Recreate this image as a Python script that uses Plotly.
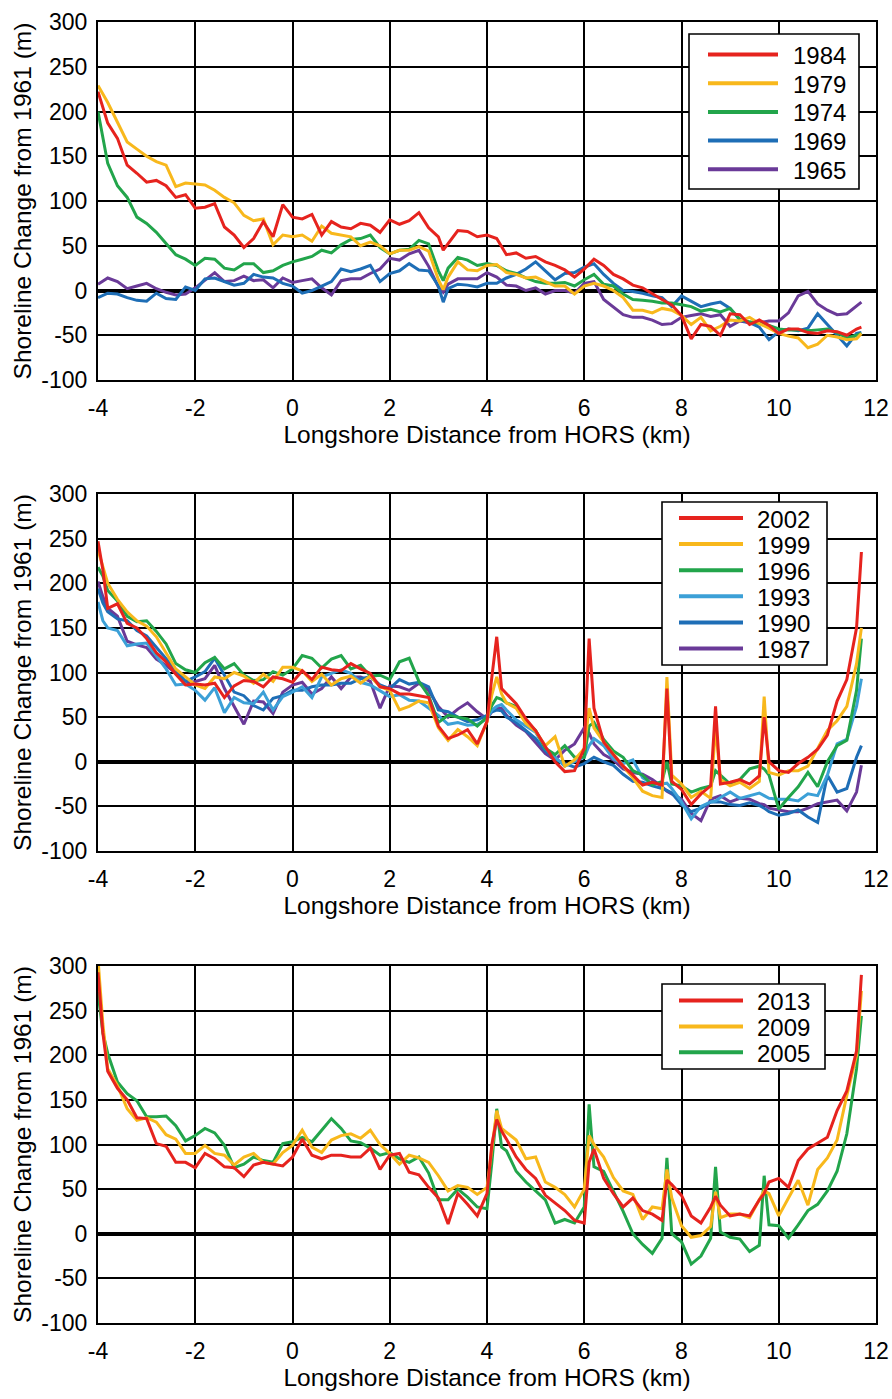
import plotly.graph_objects as go

# ---------------- data ----------------
# Panel 1 : 1965 - 1984
X1 = [-4.0, -3.8, -3.6, -3.4, -3.2, -3.0, -2.8, -2.6, -2.4, -2.2,
      -2.0, -1.8, -1.6, -1.4, -1.2, -1.0, -0.8, -0.6, -0.4, -0.2,
      0.0, 0.2, 0.4, 0.6, 0.8, 1.0, 1.2, 1.4, 1.6, 1.8,
      2.0, 2.2, 2.4, 2.6, 2.8, 3.0, 3.1, 3.2, 3.4, 3.6,
      3.8, 4.0, 4.2, 4.4, 4.6, 4.8, 5.0, 5.2, 5.4, 5.6,
      5.8, 6.0, 6.2, 6.4, 6.6, 6.8, 7.0, 7.2, 7.4, 7.6,
      7.8, 8.0, 8.2, 8.4, 8.6, 8.8, 9.0, 9.2, 9.4, 9.6,
      9.8, 10.0, 10.2, 10.4, 10.6, 10.8, 11.0, 11.2, 11.4, 11.6,
      11.7]

Y1984 = [222, 187, 170, 140, 131, 121, 123, 117, 104, 107,
         92, 93, 97, 71, 62, 48, 58, 77, 60, 96,
         82, 80, 85, 62, 77, 71, 69, 75, 73, 65,
         79, 74, 78, 87, 70, 60, 45, 52, 67, 66,
         60, 62, 58, 40, 42, 36, 38, 32, 28, 23,
         15, 24, 35, 28, 18, 13, 6, 3, -4, -10,
         -16, -28, -54, -38, -40, -50, -26, -27, -38, -33,
         -39, -48, -43, -43, -47, -48, -45, -46, -50, -43,
         -41]
Y1979 = [229, 210, 188, 166, 158, 150, 144, 140, 116, 120,
         119, 118, 112, 104, 98, 84, 78, 80, 51, 62,
         60, 62, 55, 72, 64, 62, 60, 50, 54, 50,
         41, 45, 45, 49, 44, 12, 1, 15, 32, 23,
         22, 28, 29, 20, 18, 14, 15, 10, 5, 5,
         -4, 5, 8, 5, 0, -8, -22, -22, -25, -20,
         -22, -28, -38, -30, -45, -40, -33, -34, -30, -37,
         -42, -48, -51, -53, -64, -60, -50, -52, -55, -54,
         -48]
Y1974 = [200, 142, 117, 104, 82, 75, 65, 53, 40, 35,
         28, 36, 35, 25, 23, 30, 30, 20, 22, 28,
         32, 35, 38, 45, 42, 51, 57, 58, 62, 48,
         41, 45, 46, 56, 52, 22, 11, 25, 37, 34,
         28, 30, 28, 22, 19, 14, 10, 8, 8, 9,
         5, 12, 18, 7, 5, -4, -10, -11, -12, -14,
         -14, -16, -18, -23, -21, -24, -20, -32, -35, -37,
         -39, -43, -44, -44, -45, -44, -43, -47, -53, -50,
         -48]
Y1969 = [-8, -3, -4, -8, -11, -12, -3, -9, -10, 4,
         0, 13, 14, 10, 6, 8, 18, 15, 14, 8,
         5, -3, 0, 5, 10, 24, 21, 24, 28, 10,
         19, 22, 30, 23, 22, 5, -13, 2, 7, 6,
         4, 8, 8, 14, 18, 24, 32, 22, 12, 19,
         20, 26, 30, 18, 8, 0, -1, -3, -6, -8,
         -18, -6, -12, -18, -15, -13, -20, -33, -36, -41,
         -55, -46, -43, -45, -42, -26, -38, -50, -62, -48,
         -47]
Y1965 = [7, 14, 10, 2, 5, 8, 2, -2, -5, -4,
         3, 12, 20, 10, 11, 16, 11, 12, 3, 14,
         9, 11, 13, 3, -5, 11, 13, 13, 19, 24,
         36, 34, 41, 45, 27, 4, -2, 7, 13, 13,
         13, 20, 15, 6, 5, 0, 3, -4, 0, 0,
         -3, 8, 10, -10, -18, -27, -30, -30, -33, -38,
         -37, -30, -28, -26, -29, -27, -40, -34, -36, -36,
         -34, -34, -25, -6, -1, -15, -22, -27, -26, -17,
         -13]

# Panels 2 and 3 share one sampling of the longshore distance
X2 = [-4.0, -3.9, -3.8, -3.6, -3.4, -3.2, -3.0, -2.8, -2.6, -2.4,
      -2.2, -2.0, -1.8, -1.6, -1.4, -1.2, -1.0, -0.8, -0.6, -0.4,
      -0.2, 0.0, 0.2, 0.4, 0.6, 0.8, 1.0, 1.2, 1.4, 1.6,
      1.8, 2.0, 2.2, 2.4, 2.6, 2.8, 3.0, 3.2, 3.4, 3.6,
      3.8, 4.0, 4.1, 4.2, 4.3, 4.4, 4.6, 4.8, 5.0, 5.2,
      5.4, 5.6, 5.8, 6.0, 6.1, 6.2, 6.4, 6.6, 6.8, 7.0,
      7.2, 7.4, 7.6, 7.7, 7.8, 8.0, 8.2, 8.4, 8.6, 8.7,
      8.8, 9.0, 9.2, 9.4, 9.6, 9.7, 9.8, 10.0, 10.2, 10.4,
      10.6, 10.8, 11.0, 11.2, 11.4, 11.6, 11.7]

# Panel 2 : 1987 - 2002
Y2002 = [247, 215, 172, 177, 155, 150, 138, 122, 112, 98,
         86, 87, 86, 88, 72, 85, 91, 90, 84, 95,
         93, 89, 102, 92, 106, 103, 102, 110, 104, 99,
         84, 82, 76, 76, 74, 72, 40, 26, 30, 36,
         20, 45, 95, 140, 82, 76, 65, 48, 35, 17,
         0, -11, -10, 15, 138, 60, 22, 8, -5, -15,
         -26, -23, -26, 82, -22, -31, -48, -36, -27, 62,
         -25, -23, -20, -25, -16, 50, 0, -10, -12, -2,
         5, 14, 30, 68, 92, 150, 235]
Y1999 = [237, 218, 200, 182, 168, 158, 152, 140, 122, 104,
         95, 86, 82, 95, 93, 100, 96, 88, 98, 90,
         106, 106, 102, 90, 98, 86, 93, 96, 88, 96,
         84, 80, 58, 62, 68, 66, 38, 24, 36, 28,
         18, 45, 75, 95, 76, 66, 60, 43, 34, 18,
         28, -5, 2, 15, 60, 38, 22, 8, -5, -18,
         -33, -38, -40, 95, -15, -25, -40, -33, -41, 40,
         -20, -27, -23, -30, -22, 73, -12, -15, -10, -10,
         -5, 15, 35, 46, 62, 110, 150]
Y1996 = [218, 208, 192, 180, 163, 157, 158, 146, 132, 110,
         103, 100, 111, 117, 104, 110, 97, 91, 92, 101,
         97, 104, 119, 116, 105, 115, 119, 104, 108, 96,
         97, 92, 112, 116, 90, 74, 44, 52, 50, 48,
         40, 50, 63, 72, 70, 66, 62, 45, 35, 15,
         8, 18, 5, 5, 40, 44, 25, 12, 5, -10,
         -15, -26, -22, 0, -25, -27, -34, -30, -27, -10,
         -15, -25, -20, -8, -5, -8, -15, -53, -40, -28,
         -12, -28, 0, 18, 24, 80, 138]
Y1993 = [179, 158, 150, 147, 130, 132, 133, 118, 104, 86,
         87, 80, 69, 83, 55, 72, 66, 65, 78, 58,
         73, 78, 84, 72, 95, 99, 103, 99, 89, 86,
         79, 73, 75, 69, 68, 60, 52, 42, 44, 41,
         42, 48, 58, 62, 64, 58, 47, 40, 33, 15,
         5, -5, 0, 5, 18, 26, 18, 3, -2, 2,
         -18, -25, -25, -24, -30, -45, -64, -50, -45, -44,
         -40, -34, -41, -38, -35, -38, -41, -42, -42, -44,
         -36, -38, -15, 20, 25, 62, 93]
Y1990 = [194, 178, 168, 160, 158, 147, 141, 128, 116, 102,
         90, 95, 101, 116, 97, 78, 74, 63, 58, 71,
         74, 80, 80, 84, 86, 86, 88, 88, 93, 95,
         86, 82, 92, 87, 89, 84, 58, 56, 50, 45,
         47, 52, 56, 58, 57, 50, 44, 35, 26, 12,
         3, -2, -6, -2, 2, 5, 0, -4, -14, -22,
         -23, -27, -30, -32, -35, -48, -56, -52, -45, -45,
         -45, -48, -49, -46, -49, -52, -56, -60, -58, -54,
         -62, -68, -15, -34, -30, 5, 18]
Y1987 = [202, 185, 172, 163, 135, 131, 128, 115, 108, 99,
         88, 90, 93, 108, 82, 62, 42, 68, 67, 54,
         78, 86, 89, 76, 82, 95, 82, 95, 95, 90,
         60, 85, 84, 80, 88, 80, 62, 50, 59, 66,
         56, 48, 56, 60, 60, 52, 41, 34, 22, 9,
         2, 13, 20, 38, 32, 20, 8, 2, -8, -12,
         -14, -20, -28, -33, -36, -42, -58, -66, -42, -40,
         -38, -45, -41, -42, -47, -48, -52, -54, -56, -56,
         -52, -47, -45, -43, -55, -34, -4]

# Panel 3 : 2005 - 2013
Y2013 = [293, 225, 182, 163, 150, 130, 129, 101, 98, 80,
         80, 74, 90, 84, 75, 74, 64, 77, 80, 78,
         76, 86, 106, 88, 84, 88, 88, 86, 86, 96,
         72, 88, 90, 69, 66, 52, 40, 11, 45, 33,
         20, 45, 100, 128, 115, 106, 86, 72, 62, 43,
         35, 26, 15, 12, 80, 95, 62, 45, 30, 40,
         26, 22, 15, 60, 55, 43, 20, 12, 30, 42,
         32, 20, 22, 20, 38, 45, 58, 62, 52, 82,
         95, 102, 108, 138, 160, 205, 290]
Y2009 = [308, 235, 185, 166, 140, 127, 130, 125, 111, 106,
         90, 90, 99, 90, 88, 77, 86, 90, 80, 78,
         91, 99, 116, 97, 91, 105, 110, 112, 107, 116,
         100, 90, 78, 88, 85, 80, 65, 48, 54, 52,
         44, 52, 95, 138, 118, 114, 105, 84, 86, 58,
         52, 44, 30, 50, 110, 100, 86, 63, 48, 44,
         16, 30, 28, 72, 40, 9, -4, -2, 8, 47,
         18, 22, 22, 18, 38, 48, 45, 20, 40, 60,
         32, 72, 85, 105, 155, 200, 272]
Y2005 = [271, 225, 202, 170, 157, 149, 131, 131, 132, 121,
         104, 110, 118, 113, 99, 74, 78, 86, 82, 80,
         101, 103, 108, 103, 116, 129, 118, 104, 102, 96,
         88, 91, 84, 80, 86, 68, 38, 38, 50, 41,
         30, 28, 80, 140, 97, 93, 70, 58, 48, 38,
         12, 16, 12, 30, 145, 75, 70, 48, 25, 0,
         -12, -22, -5, 85, 0, -9, -34, -25, -5, 75,
         2, -4, -6, -20, -13, 65, 10, 9, -5, 10,
         26, 33, 48, 70, 112, 185, 244]

for _y in (Y1984, Y1979, Y1974, Y1969, Y1965):
    assert len(_y) == len(X1)
for _y in (Y2002, Y1999, Y1996, Y1993, Y1990, Y1987, Y2013, Y2009, Y2005):
    assert len(_y) == len(X2)

X_TICKS = [-4, -2, 0, 2, 4, 6, 8, 10, 12]
Y_TICKS = [-100, -50, 0, 50, 100, 150, 200, 250, 300]

# ---------------- styling ----------------
RED = "#E6231E"
YELLOW = "#F8B81C"
GREEN = "#22A54B"
BLUE = "#1E6EB6"
LBLUE = "#3CA0D7"
PURPLE = "#6A3A98"

FONT = "Liberation Sans, Arial, Helvetica, sans-serif"
W, H = 892, 1399
ML, MR, MT, MB = 98, 16, 22, 76
PW, PH = W - ML - MR, H - MT - MB


def fx(px):
    """window pixel x -> paper fraction"""
    return (px - ML) / PW


def fy(py):
    """window pixel y -> paper fraction"""
    return 1 - (py - MT) / PH


# series listed newest first (legend order); drawn oldest first
panels = [
    dict(top=22, bottom=380,
         series=[("1984", X1, Y1984, RED), ("1979", X1, Y1979, YELLOW),
                 ("1974", X1, Y1974, GREEN), ("1969", X1, Y1969, BLUE),
                 ("1965", X1, Y1965, PURPLE)],
         box=(689, 34, 859, 189), key=(708, 778), ky0=54.5, kdy=28.7, tx=791),
    dict(top=494, bottom=851,
         series=[("2002", X2, Y2002, RED), ("1999", X2, Y1999, YELLOW),
                 ("1996", X2, Y1996, GREEN), ("1993", X2, Y1993, LBLUE),
                 ("1990", X2, Y1990, BLUE), ("1987", X2, Y1987, PURPLE)],
         box=(662, 502, 827, 665), key=(679, 743), ky0=518, kdy=26.1, tx=755),
    dict(top=966, bottom=1323,
         series=[("2013", X2, Y2013, RED), ("2009", X2, Y2009, YELLOW),
                 ("2005", X2, Y2005, GREEN)],
         box=(662, 984, 825, 1069), key=(679, 743), ky0=1000.5, kdy=25.9, tx=755),
]

fig = go.Figure()
shapes, annotations = [], []
layout = dict(
    template="none",
    width=W, height=H, autosize=False,
    margin=dict(l=ML, r=MR, t=MT, b=MB, pad=0),
    paper_bgcolor="white", plot_bgcolor="white",
    showlegend=False,
    font=dict(family=FONT, color="black", size=23),
)

for i, p in enumerate(panels, start=1):
    xa = "x" if i == 1 else f"x{i}"
    ya = "y" if i == 1 else f"y{i}"
    for name, xs, ys, col in reversed(p["series"]):
        fig.add_trace(go.Scatter(x=xs, y=ys, mode="lines", name=name,
                                 line=dict(color=col, width=3),
                                 xaxis=xa, yaxis=ya))
    xkey = "xaxis" if i == 1 else f"xaxis{i}"
    ykey = "yaxis" if i == 1 else f"yaxis{i}"
    layout[xkey] = dict(
        domain=[0, 1], anchor=ya, range=[-4, 12],
        tickmode="array", tickvals=X_TICKS, ticktext=[str(v) for v in X_TICKS],
        showgrid=True, gridcolor="black", gridwidth=1.6,
        zeroline=False, showline=True, linecolor="black", linewidth=2, mirror=True,
        ticks="", ticklabelstandoff=6, automargin=False,
        tickfont=dict(family=FONT, size=23, color="black"),
        title=dict(text="Longshore Distance from HORS (km)",
                   font=dict(family=FONT, size=24.5, color="black"), standoff=5),
    )
    layout[ykey] = dict(
        domain=[fy(p["bottom"]), fy(p["top"])], anchor=xa, range=[-100, 300],
        tickmode="array", tickvals=Y_TICKS, ticktext=[str(v) for v in Y_TICKS],
        showgrid=True, gridcolor="black", gridwidth=1.6,
        zeroline=True, zerolinecolor="black", zerolinewidth=4,
        showline=True, linecolor="black", linewidth=2, mirror=True,
        ticks="", ticklabelstandoff=4, automargin=False,
        tickfont=dict(family=FONT, size=23, color="black"),
        title=dict(text="Shoreline Change from 1961 (m)",
                   font=dict(family=FONT, size=24.5, color="black"), standoff=3),
    )
    # legend box drawn on the paper
    x0, y0, x1, y1 = p["box"]
    shapes.append(dict(type="rect", xref="paper", yref="paper", layer="above",
                       x0=fx(x0), x1=fx(x1), y0=fy(y1), y1=fy(y0),
                       fillcolor="white", line=dict(color="black", width=1.6)))
    for k, (name, xs, ys, col) in enumerate(p["series"]):
        yk = p["ky0"] + k * p["kdy"]
        shapes.append(dict(type="line", xref="paper", yref="paper", layer="above",
                           x0=fx(p["key"][0]), x1=fx(p["key"][1]), y0=fy(yk), y1=fy(yk),
                           line=dict(color=col, width=4)))
        annotations.append(dict(text=name, xref="paper", yref="paper",
                                x=fx(p["tx"]), y=fy(yk + 1), xanchor="left", yanchor="middle",
                                showarrow=False,
                                font=dict(family=FONT, size=24, color="black")))

layout["shapes"] = shapes
layout["annotations"] = annotations
fig.update_layout(**layout)
# remove the browser's default 8 px page margin so the figure fills the window exactly
fig.write_html("out.html",
               config={"displayModeBar": False},
               post_script="document.body.style.margin='0px';"
                           "document.body.style.overflow='hidden';")
